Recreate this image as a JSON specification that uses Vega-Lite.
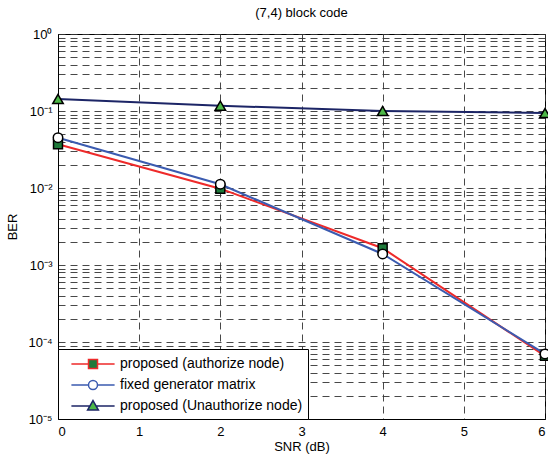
{
  "$schema": "https://vega.github.io/schema/vega-lite/v6.json",
  "width": 487,
  "height": 385,
  "autosize": {"type": "none"},
  "padding": {"left": 58, "top": 34, "right": 3, "bottom": 38},
  "config": {
    "font": "Liberation Sans",
    "view": {"stroke": "black", "strokeWidth": 1},
    "axis": {
      "domainColor": "black", "labelColor": "black", "titleColor": "black",
      "labelFont": "Liberation Sans", "titleFont": "Liberation Sans",
      "labelFontSize": 13, "titleFontSize": 13, "titleFontWeight": "normal",
      "gridColor": "#333333", "gridDash": [7, 5], "gridWidth": 0.9, "gridOpacity": 1,
      "ticks": false
    }
  },
  "title": {"text": "(7,4) block code", "fontSize": 13, "fontWeight": "normal", "font": "Liberation Sans", "offset": 8, "color": "black"},
  "data": {
    "values": [
      {"series": "proposed (authorize node)", "snr": 0, "ber": 0.037},
      {"series": "proposed (authorize node)", "snr": 2, "ber": 0.0098},
      {"series": "proposed (authorize node)", "snr": 4, "ber": 0.00165},
      {"series": "proposed (authorize node)", "snr": 6, "ber": 0.000066},
      {"series": "fixed generator matrix", "snr": 0, "ber": 0.045},
      {"series": "fixed generator matrix", "snr": 2, "ber": 0.0112},
      {"series": "fixed generator matrix", "snr": 4, "ber": 0.00139},
      {"series": "fixed generator matrix", "snr": 6, "ber": 0.00007},
      {"series": "proposed (Unauthorize node)", "snr": 0, "ber": 0.143},
      {"series": "proposed (Unauthorize node)", "snr": 2, "ber": 0.117},
      {"series": "proposed (Unauthorize node)", "snr": 4, "ber": 0.1},
      {"series": "proposed (Unauthorize node)", "snr": 6, "ber": 0.094}
    ]
  },
  "layer": [
    {
      "mark": {"type": "line", "strokeWidth": 2},
      "encoding": {
        "x": {"field": "snr", "type": "quantitative", "scale": {"domain": [0, 6], "nice": false},
          "axis": {"values": [0, 1, 2, 3, 4, 5, 6], "title": "SNR (dB)", "labelPadding": 6, "titlePadding": 2, "format": "d"}},
        "y": {"field": "ber", "type": "quantitative", "scale": {"type": "log", "domain": [0.00001, 1], "nice": false},
          "axis": {
            "values": [0.00001,0.00002,0.00003,0.00004,0.00005,0.00006,0.00007,0.00008,0.00009,
                       0.0001,0.0002,0.0003,0.0004,0.0005,0.0006,0.0007,0.0008,0.0009,
                       0.001,0.002,0.003,0.004,0.005,0.006,0.007,0.008,0.009,
                       0.01,0.02,0.03,0.04,0.05,0.06,0.07,0.08,0.09,
                       0.1,0.2,0.3,0.4,0.5,0.6,0.7,0.8,0.9,1],
            "labelExpr": "datum.value == 1 ? '10⁰' : datum.value == 0.1 ? '10⁻¹' : datum.value == 0.01 ? '10⁻²' : datum.value == 0.001 ? '10⁻³' : datum.value == 0.0001 ? '10⁻⁴' : datum.value == 0.00001 ? '10⁻⁵' : ''",
            "title": "BER", "labelPadding": 6, "titlePadding": 8}},
        "detail": {"field": "series"},
        "stroke": {
          "condition": [
            {"test": "datum.series === 'proposed (authorize node)'", "value": "#ee2a2a"},
            {"test": "datum.series === 'fixed generator matrix'", "value": "#3b5bb0"}
          ],
          "value": "#1c2566"
        }
      }
    },
    {
      "mark": {"type": "point", "filled": true, "stroke": "black", "strokeWidth": 1.5, "opacity": 1},
      "encoding": {
        "x": {"field": "snr", "type": "quantitative"},
        "y": {"field": "ber", "type": "quantitative"},
        "shape": {
          "condition": [
            {"test": "datum.series === 'proposed (authorize node)'", "value": "square"},
            {"test": "datum.series === 'fixed generator matrix'", "value": "circle"}
          ],
          "value": "triangle-up"
        },
        "fill": {
          "condition": [
            {"test": "datum.series === 'proposed (authorize node)'", "value": "#1e7a3a"},
            {"test": "datum.series === 'fixed generator matrix'", "value": "white"}
          ],
          "value": "#4db848"
        },
        "size": {
          "condition": [
            {"test": "datum.series === 'proposed (authorize node)'", "value": 80},
            {"test": "datum.series === 'fixed generator matrix'", "value": 90}
          ],
          "value": 110
        }
      }
    },
    {
      "transform": [{"filter": "false"}],
      "mark": {"type": "point", "filled": true, "strokeWidth": 1.5, "opacity": 1},
      "encoding": {
        "shape": {"field": "series", "type": "nominal",
          "scale": {"domain": ["proposed (authorize node)", "fixed generator matrix", "proposed (Unauthorize node)"],
            "range": [
              "M-2.4,0H-0.5M0.5,0H2.4M-0.5,-0.5H0.5V0.5H-0.5Z",
              "M-2.4,0H-0.5M0.5,0H2.4M-0.5,0A0.5,0.5 0 1,0 0.5,0A0.5,0.5 0 1,0 -0.5,0Z",
              "M-2.4,0H-0.34M0.34,0H2.4M0,-0.6L0.6,0.45L-0.6,0.45Z"
            ]},
          "legend": {
            "orient": "bottom-left", "offset": 0, "title": null,
            "strokeColor": "black", "fillColor": "white", "padding": 5,
            "symbolSize": 324, "symbolStrokeWidth": 1.5,
            "labelFontSize": 14, "labelFont": "Liberation Sans", "labelColor": "black", "labelLimit": 400,
            "rowPadding": 3, "symbolOffset": 20, "labelOffset": 17
          }},
        "fill": {"field": "series", "type": "nominal",
          "scale": {"domain": ["proposed (authorize node)", "fixed generator matrix", "proposed (Unauthorize node)"],
            "range": ["#1e7a3a", "white", "#4db848"]}},
        "stroke": {"field": "series", "type": "nominal",
          "scale": {"domain": ["proposed (authorize node)", "fixed generator matrix", "proposed (Unauthorize node)"],
            "range": ["#ee2a2a", "#3b5bb0", "#1c2566"]}}
      }
    }
  ]
}
